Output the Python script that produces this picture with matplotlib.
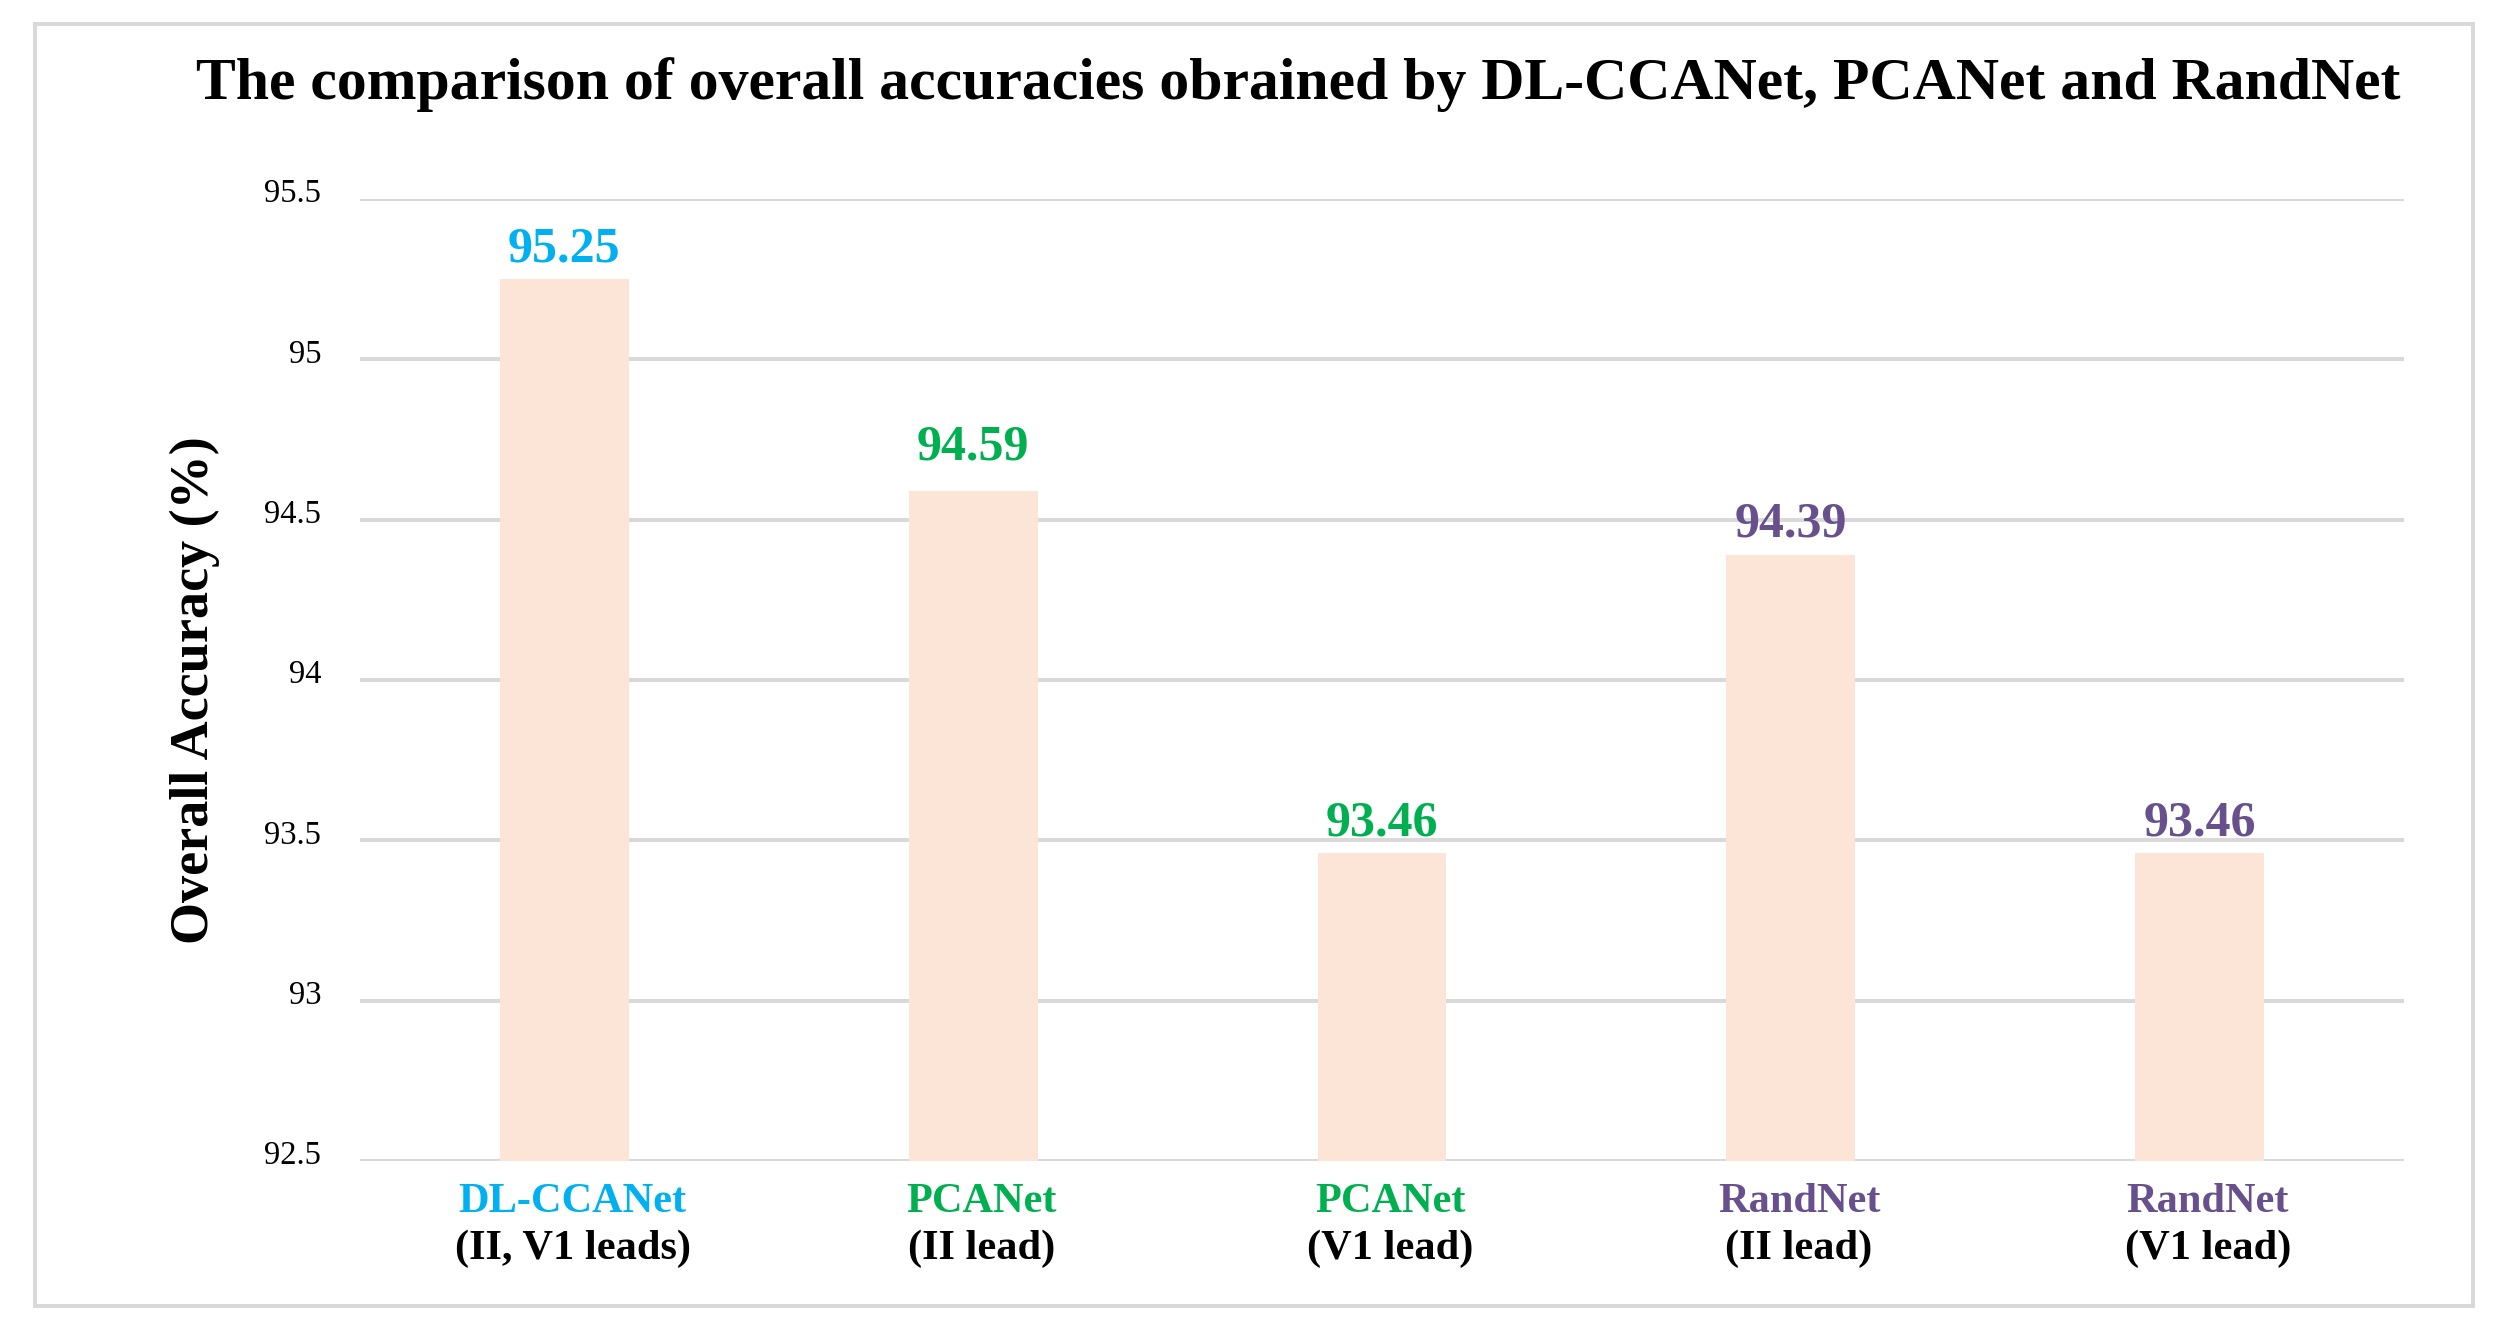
import matplotlib
matplotlib.use("Agg")
import matplotlib.pyplot as plt
from matplotlib.patches import Rectangle
import matplotlib.transforms as mtransforms

plt.rcParams['font.family'] = ['Liberation Serif', 'DejaVu Serif']

# data
methods = ["DL-CCANet", "PCANet", "PCANet", "RandNet", "RandNet"]
leads = ["(II, V1 leads)", "(II lead)", "(V1 lead)", "(II lead)", "(V1 lead)"]
accuracy = [95.25, 94.59, 93.46, 94.39, 93.46]
yticks = [92.5, 93, 93.5, 94, 94.5, 95, 95.5]
ytick_labels = ["92.5", "93", "93.5", "94", "94.5", "95", "95.5"]

blue = "#00B0F0"
green = "#00B050"
purple = "#68508C"
label_colors = [blue, green, green, purple, purple]
bar_color = "#FCE4D6"
grid_color = "#D9D9D9"

fig = plt.figure(figsize=(25.01, 13.34), dpi=100)
ax = fig.add_axes([0.1439, 0.1297, 0.9612 - 0.1439, 0.8508 - 0.1297])

x = list(range(len(accuracy)))
ax.bar(x, [a - 92.5 for a in accuracy], bottom=92.5, width=0.315,
       color=bar_color, zorder=3)

ax.set_xlim(-0.5, len(accuracy) - 0.5)
ax.set_ylim(92.5, 95.5)
ax.set_yticks(yticks)
ax.set_yticklabels(ytick_labels, fontsize=23.5)
ax.tick_params(axis='y', length=0, pad=28)
ax.set_xticks([])
for s in ax.spines.values():
    s.set_visible(False)
ax.yaxis.grid(True, color=grid_color, linewidth=2.9, zorder=0)
ax.set_axisbelow(True)

# nudge y tick labels up a little, like the original
up = mtransforms.ScaledTranslation(0, 6 / 72, fig.dpi_scale_trans)
for lab in ax.get_yticklabels():
    lab.set_transform(lab.get_transform() + up)

# value labels above bars (the PCANet II label sits a bit higher in the original)
extra_lift = {1: 9.5}
for i, v in enumerate(accuracy):
    ax.annotate(f"{v:.2f}", xy=(i, v), xytext=(0, 13 + extra_lift.get(i, 0)),
                textcoords='offset points',
                ha='center', va='baseline', fontsize=36, fontweight='bold',
                color=label_colors[i])

# two-line category labels
for i in x:
    ax.annotate(methods[i], xy=(i, 0), xycoords=ax.get_xaxis_transform(),
                xytext=(6, -36.7), textcoords='offset points',
                ha='center', va='baseline', fontsize=30.5, fontweight='bold',
                color=label_colors[i])
    ax.annotate(leads[i], xy=(i, 0), xycoords=ax.get_xaxis_transform(),
                xytext=(6, -70.6), textcoords='offset points',
                ha='center', va='baseline', fontsize=30.5, fontweight='bold',
                color='black')

fig.text(0.519, 0.926,
         "The comparison of overall accuracies obrained by DL-CCANet, PCANet and RandNet",
         ha='center', va='baseline', fontsize=43, fontweight='bold')
fig.text(0.078, 0.483, "Overall Accuracy (%)", rotation=90,
         ha='center', va='center', fontsize=39, fontweight='bold')

# light grey frame around the chart area
fig.patches.append(Rectangle((0.014, 0.021), 0.975, 0.961, transform=fig.transFigure,
                             fill=False, edgecolor=grid_color, linewidth=2.9))

fig.savefig("out.png", dpi=100)
